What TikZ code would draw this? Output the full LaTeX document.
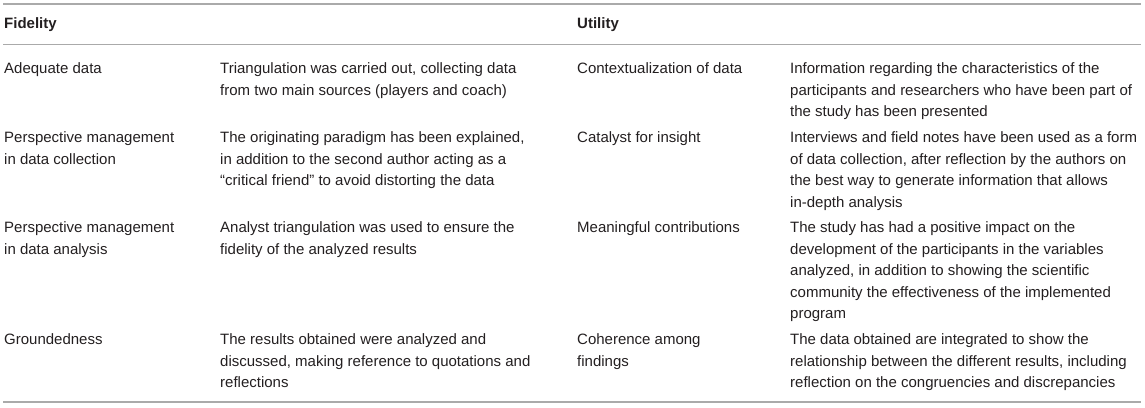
\documentclass[tikz,border=0pt]{standalone}
\usepackage{fontspec}
\setmainfont{Liberation Sans}
\definecolor{txt}{RGB}{35,31,32}
\definecolor{rulegray}{RGB}{170,170,170}
\begin{document}
\begin{tikzpicture}[x=1pt,y=-1pt,
  cell/.style={anchor=north west,inner sep=0pt,align=left,text=txt,
    font={\fontsize{15}{21.5}\selectfont}},
  head/.style={cell,font={\fontsize{15}{21.5}\selectfont\bfseries}},
  tabrule/.style={draw=rulegray,line width=1.5pt}]
\useasboundingbox (0,0) rectangle (1145,407);
\newcommand{\fl}{\rule{0pt}{12pt}}
% rules
\coordinate (tl) at (3,4);   \coordinate (tr) at (1141,4);
\coordinate (ml) at (3,44.5); \coordinate (mr) at (1141,44.5);
\coordinate (bl) at (3,402); \coordinate (br) at (1141,402);
\draw[tabrule] (tl) -- (tr);
\draw[tabrule] (ml) -- (mr);
\draw[tabrule] (bl) -- (br);
% header (baseline 28.5)
\node[head] (hfid) at (4,16.5) {\fl Fidelity};
\node[head] (huti) at (577,16.5) {\fl Utility};
% row 1 (baseline 73.5)
\node[cell] (r1a) at (4,61.5) {\fl Adequate data};
\node[cell] (r1b) at (220,61.5) {\fl Triangulation was carried out, collecting data\\from two main sources (players and coach)};
\node[cell] (r1c) at (577,61.5) {\fl Contextualization of data};
\node[cell] (r1d) at (790,61.5) {\fl Information regarding the characteristics of the\\participants and researchers who have been part of\\the study has been presented};
% row 2 (baseline 142.3)
\node[cell] (r2a) at (4,130.3) {\fl Perspective management\\in data collection};
\node[cell] (r2b) at (220,130.3) {\fl The originating paradigm has been explained,\\in addition to the second author acting as a\\“critical friend” to avoid distorting the data};
\node[cell] (r2c) at (577,130.3) {\fl Catalyst for insight};
\node[cell] (r2d) at (790,130.3) {\fl Interviews and field notes have been used as a form\\of data collection, after reflection by the authors on\\the best way to generate information that allows\\in-depth analysis};
% row 3 (baseline 232.7)
\node[cell] (r3a) at (4,220.7) {\fl Perspective management\\in data analysis};
\node[cell] (r3b) at (220,220.7) {\fl Analyst triangulation was used to ensure the\\fidelity of the analyzed results};
\node[cell] (r3c) at (577,220.7) {\fl Meaningful contributions};
\node[cell] (r3d) at (790,220.7) {\fl The study has had a positive impact on the\\development of the participants in the variables\\analyzed, in addition to showing the scientific\\community the effectiveness of the implemented\\program};
% row 4 (baseline 344.5)
\node[cell] (r4a) at (4,332.5) {\fl Groundedness};
\node[cell] (r4b) at (220,332.5) {\fl The results obtained were analyzed and\\discussed, making reference to quotations and\\reflections};
\node[cell] (r4c) at (577,332.5) {\fl Coherence among\\findings};
\node[cell] (r4d) at (790,332.5) {\fl The data obtained are integrated to show the\\relationship between the different results, including\\reflection on the congruencies and discrepancies};
\end{tikzpicture}
\end{document}
